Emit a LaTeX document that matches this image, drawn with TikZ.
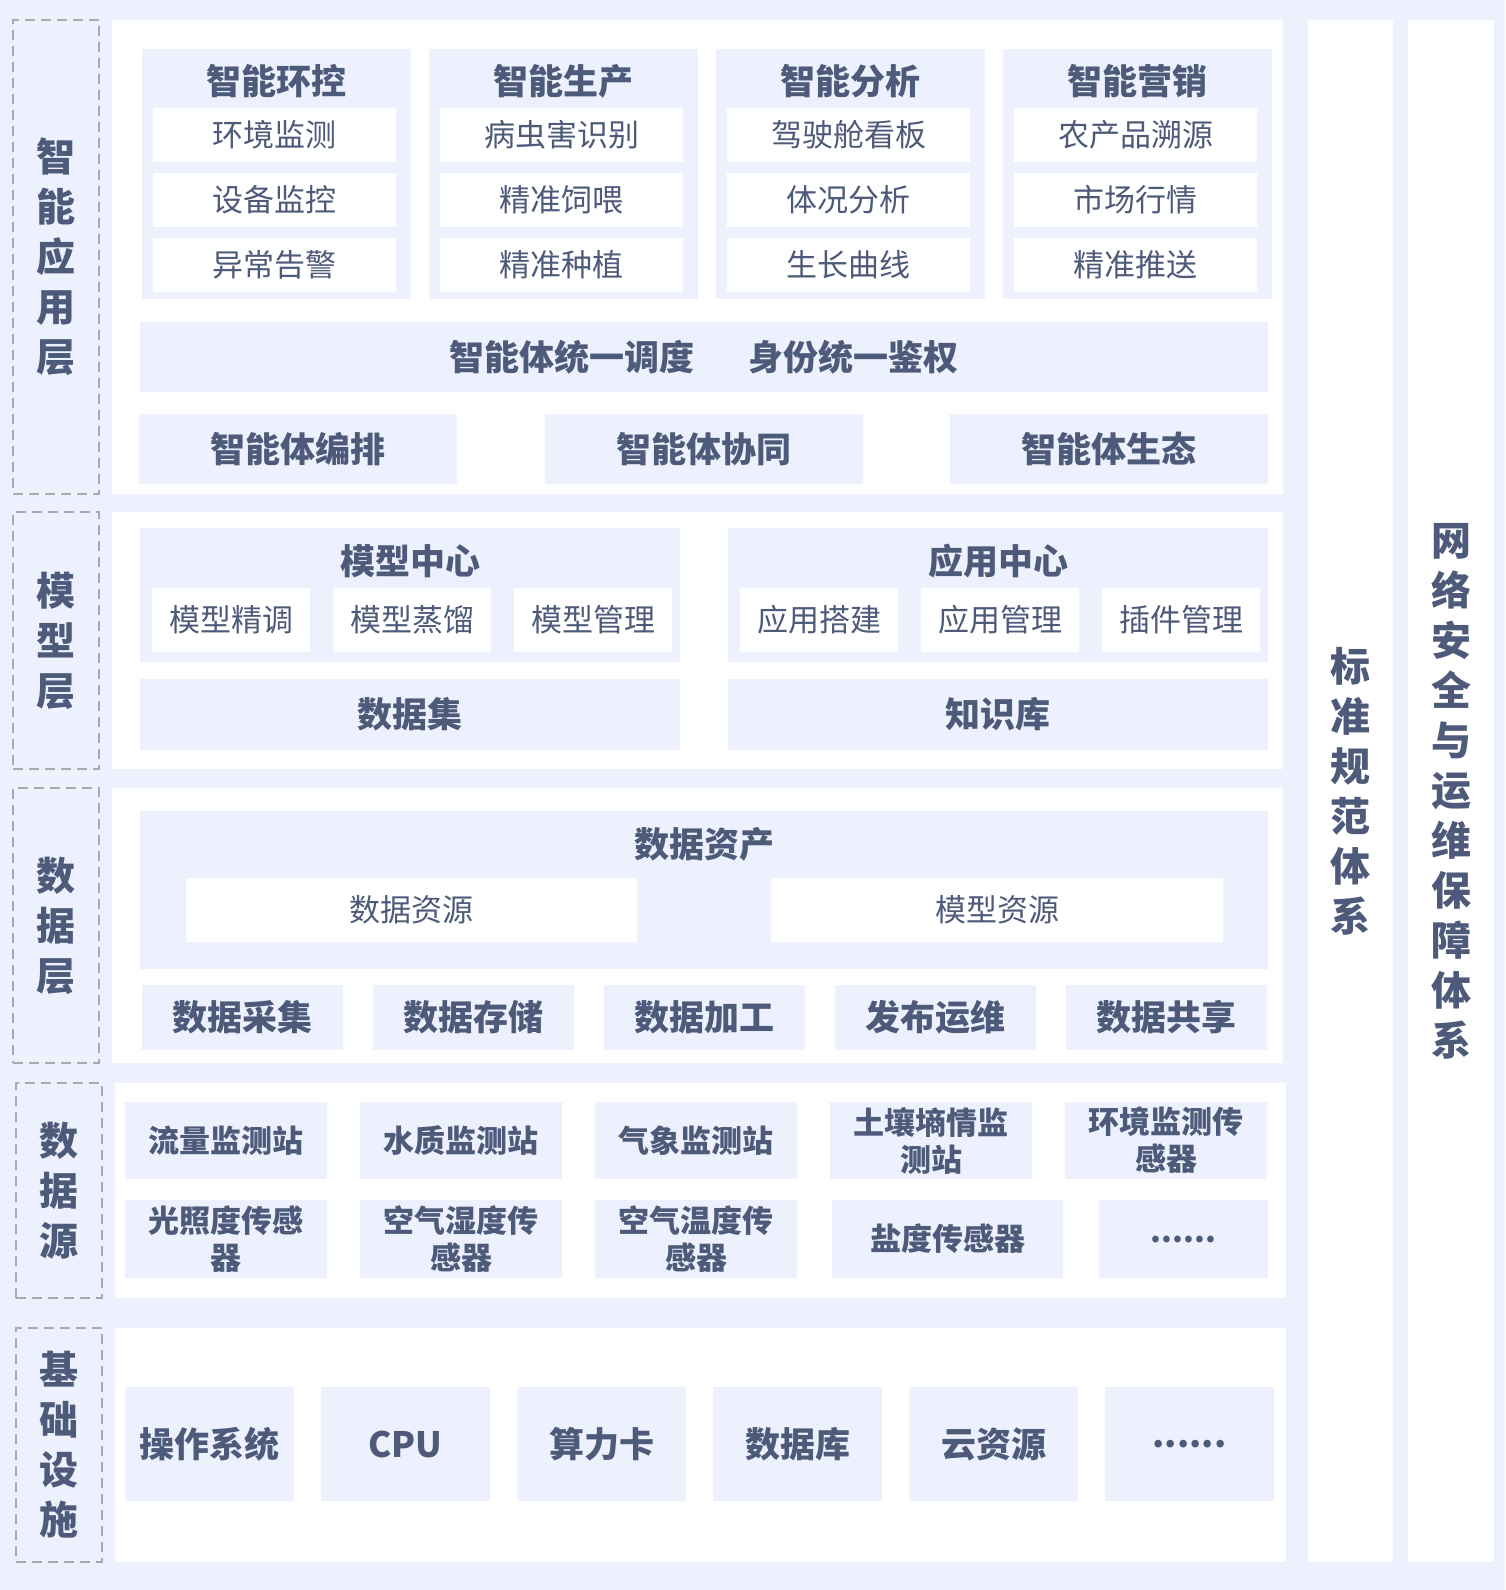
\documentclass[tikz,border=0pt]{standalone}
\usepackage{fontspec}
\setmainfont{Noto Sans CJK SC}
\definecolor{bgblue}{RGB}{236,241,253}
\definecolor{txtc}{RGB}{78,90,122}
\definecolor{dashc}{RGB}{168,170,178}
\newcommand{\etcdots}{......}

\begin{document}
\begin{tikzpicture}[x=1pt, y=-1pt,
  panel/.style={fill=white, inner sep=0, outer sep=0, anchor=north west},
  blk/.style={fill=bgblue, inner sep=0, outer sep=0, anchor=north west, text=txtc, align=center, font=\bfseries\fontsize{35}{40}\selectfont},
  src/.style={blk, font=\bfseries\fontsize{31}{37}\selectfont},
  itm/.style={fill=white, inner sep=0, outer sep=0, anchor=north west, text=txtc, font=\fontsize{31}{38}\selectfont},
  ttl/.style={text=txtc, inner sep=0, font=\bfseries\fontsize{35}{40}\selectfont},
  side/.style={draw=dashc, line width=1.5pt, dash pattern=on 10pt off 6pt, inner sep=0, outer sep=0, anchor=north west, text=txtc, align=center, font=\bfseries\fontsize{39}{50}\selectfont},
  col/.style={panel, text=txtc, align=center, font=\bfseries\fontsize{40}{50}\selectfont}]
\coordinate (O) at (0,0);
\fill[bgblue] (O) rectangle (1505,1590);
\useasboundingbox (O) rectangle (1505,1590);

\node[side, minimum width=86, minimum height=474] (lapp) at (13,20) {智\\能\\应\\用\\层};
\node[side, minimum width=86, minimum height=257] (lmod) at (13,512) {模\\型\\层};
\node[side, minimum width=86, minimum height=275] (ldat) at (13,788) {数\\据\\层};
\node[side, minimum width=86, minimum height=215] (lsrc) at (16,1083) {数\\据\\源};
\node[side, minimum width=86, minimum height=234] (linf) at (16,1328) {基\\础\\设\\施};

\node[panel, minimum width=1171, minimum height=474] (papp) at (112,20) {};
\node[panel, minimum width=1171, minimum height=257] (pmod) at (112,512) {};
\node[panel, minimum width=1171, minimum height=275] (pdat) at (112,788) {};
\node[panel, minimum width=1171, minimum height=215] (psrc) at (115,1083) {};
\node[panel, minimum width=1171, minimum height=234] (pinf) at (115,1328) {};
\node[col, minimum width=85, minimum height=1542] (std) at (1308,20) {标\\准\\规\\范\\体\\系};
\node[col, minimum width=86, minimum height=1542] (sec) at (1408,20) {网\\络\\安\\全\\与\\运\\维\\保\\障\\体\\系};

\foreach \i/\t/\a/\b/\c in {0/智能环控/环境监测/设备监控/异常告警, 1/智能生产/病虫害识别/精准饲喂/精准种植, 2/智能分析/驾驶舱看板/体况分析/生长曲线, 3/智能营销/农产品溯源/市场行情/精准推送} {
 \node[blk, minimum width=269, minimum height=250] (g\i) at (142+287*\i,49) {};
 \node[ttl] (g\i-t) at (276.5+287*\i,81) {\t};
 \node[itm, minimum width=243, minimum height=54] (g\i-a) at (153+287*\i,108) {\a};
 \node[itm, minimum width=243, minimum height=54] (g\i-b) at (153+287*\i,173) {\b};
 \node[itm, minimum width=243, minimum height=54] (g\i-c) at (153+287*\i,238) {\c};
}
\node[blk, minimum width=1128, minimum height=70] (sched) at (140,322) {智能体统一调度\hspace{55pt}身份统一鉴权};
\foreach \i/\t in {0/智能体编排, 1/智能体协同, 2/智能体生态} {
 \node[blk, minimum width=318, minimum height=70] (ag\i) at (139+405.5*\i,414) {\t};
}

\foreach \i/\t/\a/\b/\c/\d in {0/模型中心/模型精调/模型蒸馏/模型管理/数据集, 1/应用中心/应用搭建/应用管理/插件管理/知识库} {
 \node[blk, minimum width=540, minimum height=134] (m\i) at (140+588*\i,528) {};
 \node[ttl] (m\i-t) at (410+588*\i,561) {\t};
 \node[itm, minimum width=158, minimum height=64] (m\i-a) at (152+588*\i,588) {\a};
 \node[itm, minimum width=158, minimum height=64] (m\i-b) at (333+588*\i,588) {\b};
 \node[itm, minimum width=158, minimum height=64] (m\i-c) at (514+588*\i,588) {\c};
 \node[blk, minimum width=540, minimum height=71] (m\i-d) at (140+588*\i,679) {\d};
}

\node[blk, minimum width=1128, minimum height=158] (asset) at (140,811) {};
\node[ttl] (asset-t) at (704,844) {数据资产};
\node[itm, minimum width=451, minimum height=64] (dres) at (186,878) {数据资源};
\node[itm, minimum width=452, minimum height=64] (mres) at (771,878) {模型资源};
\foreach \i/\t in {0/数据采集, 1/数据存储, 2/数据加工, 3/发布运维, 4/数据共享} {
 \node[blk, minimum width=201, minimum height=65] (d\i) at (142+231*\i,985) {\t};
}

\foreach \i/\t in {0/流量监测站, 1/水质监测站, 2/气象监测站, 3/土壤墒情监\\测站, 4/环境监测传\\感器} {
 \node[src, minimum width=202, minimum height=77] (s\i) at (125+235*\i,1102) {\t};
}
\foreach \i/\t in {0/光照度传感\\器, 1/空气湿度传\\感器, 2/空气温度传\\感器} {
 \node[src, minimum width=202, minimum height=78] (r\i) at (125+235*\i,1200) {\t};
}
\node[src, minimum width=231, minimum height=78] (r3) at (832,1200) {盐度传感器};
\node[src, minimum width=169, minimum height=78] (r4) at (1099,1200) {\etcdots};

\foreach \i/\t in {0/操作系统, 1/CPU, 2/算力卡, 3/数据库, 4/云资源, 5/\etcdots} {
 \node[blk, minimum width=169, minimum height=114] (inf\i) at (125+196*\i,1387) {\t};
}
\end{tikzpicture}
\end{document}
